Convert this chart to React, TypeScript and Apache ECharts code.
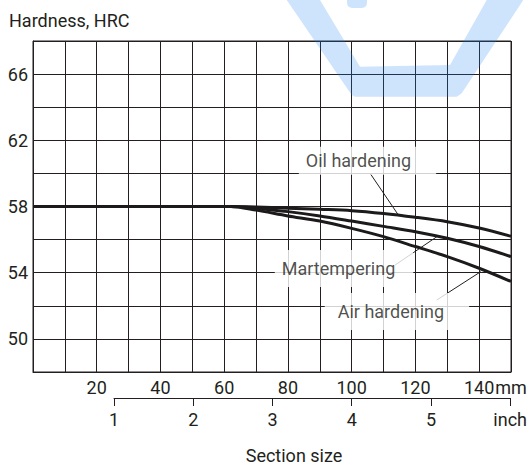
import React, { useEffect, useRef } from "react";
import * as echarts from "echarts";

// Section size (mm) and hardness (HRC)
const sectionMm = [0, 62, 70, 80, 90, 100, 110, 120, 130, 140, 150];
const oilHardening = [58, 58, 57.97, 57.9, 57.83, 57.75, 57.58, 57.35, 57.08, 56.7, 56.2];
const martempering = [58, 58, 57.9, 57.69, 57.43, 57.12, 56.8, 56.48, 56.08, 55.58, 54.97];
const airHardening = [58, 58, 57.78, 57.43, 57.12, 56.68, 56.18, 55.58, 54.97, 54.27, 53.47];

// Tick labels
const hardnessLabels = [50, 54, 58, 62, 66];
const mmLabels = [20, 40, 60, 80, 100, 120, 140];
const inchLabels = [1, 2, 3, 4, 5];

// Annotations (data coordinates: mm, HRC)
const annotationNames = ["Oil hardening", "Martempering", "Air hardening"];
const annotationAt = [
  [104.96, 60.77],
  [97.6, 54.25],
  [114.2, 51.66],
];
const leaderFrom = [
  [105.8, 60.0],
  [113.6, 54.46],
  [126.7, 52.35],
];
const leaderTo = [
  [114.6, 57.5],
  [126.7, 56.17],
  [140.5, 54.06],
];

const FONT = "Roboto, 'Noto Sans', sans-serif";
const INK = "#231f20";

export default function App() {
  const ref = useRef<HTMLDivElement>(null);

  useEffect(() => {
    if (!ref.current) return;
    const chart = echarts.init(ref.current, undefined, { renderer: "svg" });

    const curve = (name: string, ys: number[]) => ({
      name,
      type: "line",
      xAxisIndex: 0,
      yAxisIndex: 0,
      data: sectionMm.map((x, i) => [x, ys[i]]),
      showSymbol: false,
      smooth: 0.3,
      lineStyle: { color: "#1c1a1b", width: 3 },
      z: 3,
    });

    const paddings = [
      [4, 25, 4, 7],
      [10, 18, 7, 7],
      [9, 25, 8, 13],
    ];

    const option: any = {
      animation: false,
      backgroundColor: "#ffffff",
      textStyle: { fontFamily: FONT },
      grid: [
        { left: 33, top: 41, width: 478, height: 331, show: true, borderColor: INK, borderWidth: 1 },
        { left: 114, top: 397, width: 402.7, height: 1 },
      ],
      xAxis: [
        {
          type: "value",
          gridIndex: 0,
          min: 0,
          max: 150,
          interval: 10,
          axisLine: { show: true, lineStyle: { color: INK, width: 1 } },
          axisTick: { show: false },
          splitLine: { show: true, lineStyle: { color: INK, width: 1 } },
          axisLabel: {
            margin: 6,
            fontSize: 18,
            color: INK,
            fontFamily: FONT,
            showMaxLabel: true,
            formatter: (v: number) => (v === 150 ? "mm" : mmLabels.includes(v) ? String(v) : ""),
          },
        },
        {
          type: "value",
          gridIndex: 1,
          min: 1,
          max: 6,
          interval: 1,
          axisLine: { show: true, onZero: false, lineStyle: { color: INK, width: 1 } },
          axisTick: { show: true, length: 8, lineStyle: { color: INK, width: 1 } },
          splitLine: { show: false },
          axisLabel: {
            margin: 12,
            fontSize: 18,
            color: INK,
            fontFamily: FONT,
            showMaxLabel: true,
            showMinLabel: true,
            formatter: (v: number) => (v === 6 ? "inch" : inchLabels.includes(v) ? String(v) : ""),
          },
        },
      ],
      yAxis: [
        {
          type: "value",
          gridIndex: 0,
          min: 48,
          max: 68,
          interval: 2,
          axisLine: { show: true, lineStyle: { color: INK, width: 1 } },
          axisTick: { show: false },
          splitLine: { show: true, lineStyle: { color: INK, width: 1 } },
          axisLabel: {
            margin: 5,
            fontSize: 18,
            color: INK,
            fontFamily: FONT,
            formatter: (v: number) => (hardnessLabels.includes(v) ? String(v) : ""),
          },
        },
        { type: "value", gridIndex: 1, min: 0, max: 1, show: false },
      ],
      series: [
        curve("Oil hardening", oilHardening),
        curve("Martempering", martempering),
        curve("Air hardening", airHardening),
        {
          type: "scatter",
          xAxisIndex: 0,
          yAxisIndex: 0,
          symbolSize: 0,
          silent: true,
          z: 5,
          data: annotationNames.map((name, i) => ({
            name,
            value: annotationAt[i],
            label: {
              show: true,
              position: "inside",
              formatter: name,
              fontSize: 18,
              lineHeight: 20,
              fontFamily: FONT,
              color: INK,
              backgroundColor: "#ffffff",
              padding: paddings[i],
            },
          })),
          markLine: {
            silent: true,
            symbol: ["none", "none"],
            label: { show: false },
            lineStyle: { color: INK, width: 1, type: "solid" },
            data: leaderFrom.map((f, i) => [{ coord: f }, { coord: leaderTo[i] }]),
          },
        },
      ],
      graphic: [
        {
          type: "text",
          x: 9,
          y: 20,
          style: {
            text: "Hardness, HRC",
            fill: INK,
            fontSize: 18,
            fontFamily: FONT,
            textAlign: "left",
            textVerticalAlign: "middle",
            align: "left",
            verticalAlign: "middle",
          },
        },
        {
          type: "text",
          x: 294,
          y: 455,
          style: {
            text: "Section size",
            fill: INK,
            fontSize: 18,
            fontFamily: FONT,
            textAlign: "center",
            textVerticalAlign: "middle",
            align: "center",
            verticalAlign: "middle",
          },
        },
        {
          type: "polygon",
          z: 100,
          silent: true,
          shape: {
            points: [
              [286.7, 0],
              [320, 0],
              [360, 66.7],
              [450, 65],
              [486.7, 0],
              [523.3, 0],
              [461.7, 93.3],
              [456.7, 96.7],
              [355, 96.7],
              [351.7, 95],
            ],
          },
          style: { fill: "rgba(30,130,240,0.22)" },
        },
        {
          type: "rect",
          z: 100,
          silent: true,
          shape: { x: 347, y: -6, width: 20, height: 14, r: 5 },
          style: { fill: "rgba(30,130,240,0.22)" },
        },
      ],
    };

    chart.setOption(option);
    return () => chart.dispose();
  }, []);

  return (
    <div
      ref={ref}
      style={{ position: "absolute", left: 0, top: 0, width: 530, height: 465 }}
    />
  );
}
